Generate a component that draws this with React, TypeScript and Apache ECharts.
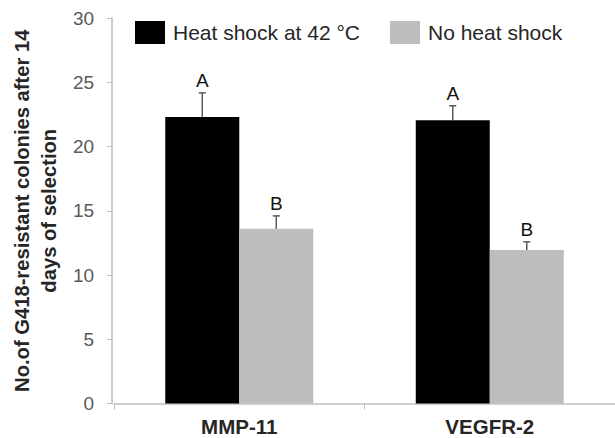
import React, { useEffect, useRef } from "react";
import * as echarts from "echarts";

const categories = ["MMP-11", "VEGFR-2"];
const seriesNames = ["Heat shock at 42 °C", "No heat shock"];
const heatShock = [22.3, 22.05];
const noHeatShock = [13.6, 11.95];
const heatShockErr = [1.87, 1.12];
const noHeatShockErr = [1.0, 0.63];
const heatShockLetters = ["A", "A"];
const noHeatShockLetters = ["B", "B"];
const yTicks = [0, 5, 10, 15, 20, 25, 30];

const FONT = "Liberation Sans, Arial, sans-serif";
const BAR_W = 74;

function errorSeries(values: number[], errs: number[], letters: string[], offset: number) {
  return {
    type: "custom",
    silent: true,
    z: 5,
    data: values.map((v, i) => [i, v, errs[i]]),
    renderItem: (params: any, api: any) => {
      const idx = api.value(0);
      const v = api.value(1);
      const e = api.value(2);
      const base = api.coord([idx, v]);
      const top = api.coord([idx, v + e]);
      const x = base[0] + offset;
      return {
        type: "group",
        children: [
          { type: "line", shape: { x1: x, y1: base[1], x2: x, y2: top[1] }, style: { stroke: "#595959", lineWidth: 1.5 } },
          { type: "line", shape: { x1: x - 3.5, y1: top[1], x2: x + 3.5, y2: top[1] }, style: { stroke: "#595959", lineWidth: 1.5 } },
          {
            type: "text",
            x: x,
            y: top[1] - 3,
            style: { text: letters[idx], fill: "#111111", font: `19px ${FONT}`, textAlign: "center", textVerticalAlign: "bottom" },
          },
        ],
      };
    },
  };
}

export default function App() {
  const ref = useRef<HTMLDivElement>(null);
  useEffect(() => {
    if (!ref.current) return;
    const chart = echarts.init(ref.current, null, { renderer: "svg" });
    chart.setOption({
      animation: false,
      backgroundColor: "#ffffff",
      grid: { left: 102, right: 0, top: 18, bottom: 34.5 },
      legend: {
        left: 130,
        top: 16,
        itemWidth: 30,
        itemHeight: 23,
        itemGap: 30,
        icon: "rect",
        textStyle: { fontSize: 21, color: "#262626", fontFamily: FONT, padding: [0, 0, 0, 3] },
        data: seriesNames,
      },
      xAxis: {
        type: "category",
        data: categories,
        axisLine: { lineStyle: { color: "#bfbfbf", width: 1.5 } },
        axisTick: { show: true, length: 6, lineStyle: { color: "#bfbfbf" } },
        axisLabel: { fontSize: 20.5, fontWeight: "bold", color: "#262626", fontFamily: FONT, margin: 12 },
      },
      yAxis: {
        type: "value",
        min: yTicks[0],
        max: yTicks[yTicks.length - 1],
        interval: 5,
        offset: 2,
        name: "No.of G418-resistant colonies after 14\ndays of selection",
        nameLocation: "middle",
        nameGap: 44,
        nameTextStyle: { fontSize: 20.2, fontWeight: "bold", color: "#262626", fontFamily: FONT, lineHeight: 27 },
        axisLine: { show: true, lineStyle: { color: "#bfbfbf", width: 1.5 } },
        axisTick: { show: true, length: 5, lineStyle: { color: "#bfbfbf" } },
        splitLine: { show: false },
        axisLabel: { fontSize: 19, color: "#595959", fontFamily: FONT, margin: 18 },
      },
      series: [
        { name: seriesNames[0], type: "bar", data: heatShock, barWidth: BAR_W, barGap: "0%", itemStyle: { color: "#000000" } },
        { name: seriesNames[1], type: "bar", data: noHeatShock, barWidth: BAR_W, barGap: "0%", itemStyle: { color: "#bdbdbd" } },
        errorSeries(heatShock, heatShockErr, heatShockLetters, -BAR_W / 2),
        errorSeries(noHeatShock, noHeatShockErr, noHeatShockLetters, BAR_W / 2),
      ],
    });
    return () => chart.dispose();
  }, []);
  return <div ref={ref} style={{ width: 615, height: 438, position: "absolute", left: 0, top: 0 }} />;
}
